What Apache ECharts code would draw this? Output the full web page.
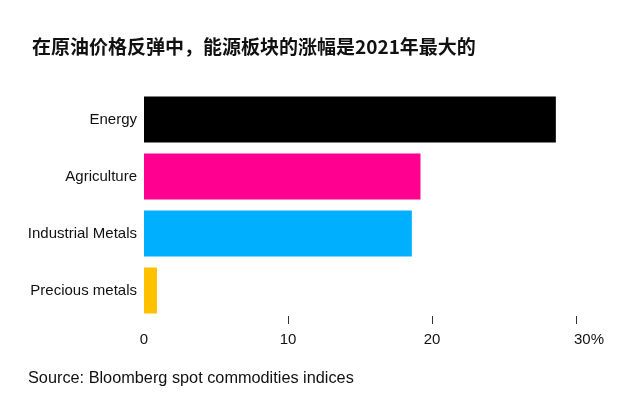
<!DOCTYPE html>
<html>
<head>
<meta charset="utf-8">
<script src="https://cdn.jsdelivr.net/npm/echarts@6/dist/echarts.min.js"></script>
<style>
  html, body { margin: 0; padding: 0; background: #fff; }
  #chart { width: 620px; height: 399px; }
</style>
</head>
<body>
<div id="chart"></div>
<script>
const categories = ['Energy', 'Agriculture', 'Industrial Metals', 'Precious metals']
const gains = [28.6, 19.2, 18.6, 0.9]
const barColors = ['#000000', '#ff0090', '#00b0ff', '#ffc000']
const tickValues = [10, 20, 30]

const chart = echarts.init(document.getElementById('chart'))

const labelFont = '"Liberation Sans", Arial, sans-serif'

chart.setOption({
  animation: false,
  title: {
    text: '在原油价格反弹中，能源板块的涨幅是2021年最大的',
    left: 27,
    top: 32,
    textStyle: {
      fontFamily: 'Noto Sans CJK SC',
      fontSize: 19,
      fontWeight: 'bold',
      color: '#111',
    },
  },
  graphic: [
    {
      type: 'text',
      left: 28,
      top: 371,
      style: {
        text: 'Source: Bloomberg spot commodities indices',
        font: '16.3px "Liberation Sans", Arial, sans-serif',
        fill: '#111',
      },
    },
  ],
  grid: {
    left: 144,
    right: 44,
    top: 91,
    bottom: 80,
  },
  xAxis: {
    type: 'value',
    min: 0,
    max: 30,
    interval: 10,
    offset: -3,
    axisLine: { show: false },
    axisTick: {
      show: true,
      customValues: tickValues,
      length: 8,
      lineStyle: { color: '#333', width: 1 },
    },
    splitLine: { show: false },
    axisLabel: {
      margin: 16,
      fontFamily: labelFont,
      fontSize: 15,
      color: '#111',
      // last label sits to the right of its tick, as in the original
      formatter: (v) => (v === 30 ? '{p|30%}' : String(v)),
      rich: {
        p: { padding: [0, 0, 0, 26], fontSize: 15, fontFamily: labelFont, color: '#111' },
      },
    },
  },
  yAxis: {
    type: 'category',
    inverse: true,
    data: categories,
    axisLine: { show: false },
    axisTick: { show: false },
    axisLabel: {
      margin: 7,
      fontFamily: labelFont,
      fontSize: 15,
      color: '#111',
    },
  },
  series: [
    {
      type: 'bar',
      barWidth: 46,
      data: gains.map((v, i) => ({ value: v, itemStyle: { color: barColors[i] } })),
    },
  ],
})
</script>
</body>
</html>
